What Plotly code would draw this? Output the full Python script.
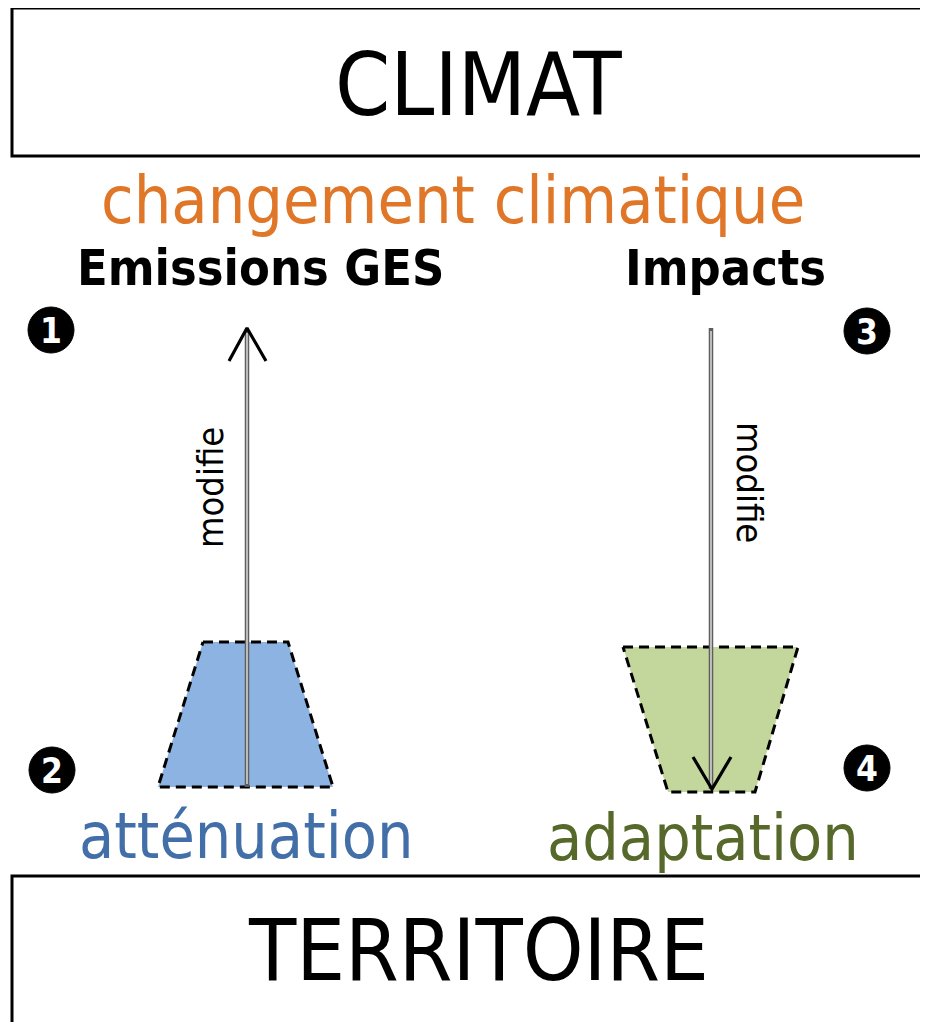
import plotly.graph_objects as go

W, H = 928, 1022
OFF = 8  # default page margin of the html body

# ---- content ----
box_labels = ["CLIMAT", "TERRITOIRE"]
box_top = [8, 876]
box_bottom = [156, 1040]

headline = "changement climatique"
top_labels = ["Emissions GES", "Impacts"]
bottom_labels = ["atténuation", "adaptation"]
arrow_label = "modifie"
numbers = ["1", "3", "2", "4"]
number_x = [51, 867, 52, 867]
number_y = [330, 331, 770, 768]

# trapezoids (vertices)
mit_x = [203, 288, 333, 158, 203]
mit_y = [642, 642, 787, 787, 642]
ada_x = [623, 798, 755, 668, 623]
ada_y = [647, 647, 792, 792, 647]

FONT = "DejaVu Sans Condensed, DejaVu Sans, sans-serif"

fig = go.Figure()

fig.add_trace(go.Scatter(x=mit_x, y=mit_y, mode="lines", fill="toself",
                         fillcolor="#8DB3E2",
                         line=dict(color="black", width=3, dash="10px,6px"),
                         hoverinfo="skip"))
fig.add_trace(go.Scatter(x=ada_x, y=ada_y, mode="lines", fill="toself",
                         fillcolor="#C3D69B",
                         line=dict(color="black", width=3, dash="10px,6px"),
                         hoverinfo="skip"))

shafts = [(247, 330, 787), (711, 328, 789)]
for sx, y0, y1 in shafts:
    fig.add_trace(go.Scatter(x=[sx, sx], y=[y0, y1], mode="lines",
                             line=dict(color="#5e5e5e", width=4.5), hoverinfo="skip"))
    fig.add_trace(go.Scatter(x=[sx, sx], y=[y0 + 3, y1 - 3], mode="lines",
                             line=dict(color="#eeeeee", width=1.3), hoverinfo="skip"))

fig.add_trace(go.Scatter(x=[229, 247, 266], y=[361, 328, 361], mode="lines",
                         line=dict(color="black", width=3.2), hoverinfo="skip"))
fig.add_trace(go.Scatter(x=[693, 712, 731], y=[757, 789, 757], mode="lines",
                         line=dict(color="black", width=3.2), hoverinfo="skip"))

for t, b in zip(box_top, box_bottom):
    fig.add_shape(type="rect", x0=12, x1=940, y0=t, y1=b,
                  line=dict(color="black", width=3), fillcolor="rgba(0,0,0,0)",
                  layer="below")

for n, cx, cy in zip(numbers, number_x, number_y):
    fig.add_shape(type="circle", x0=cx - 23, x1=cx + 23, y0=cy - 23, y1=cy + 23,
                  fillcolor="black", line=dict(color="black", width=1))
    fig.add_annotation(x=cx, y=cy + 1, text="<b>%s</b>" % n, showarrow=False,
                       font=dict(family=FONT, size=35, color="white"))

ann = [
    (box_labels[0], 478, 84, 88, "black", False, 0),
    (box_labels[1], 478, 950, 86, "black", False, 0),
    (headline, 453, 200, 66, "#E07628", False, 0),
    (top_labels[0], 260, 268, 50, "black", True, 0),
    (top_labels[1], 725, 268, 50, "black", True, 0),
    (bottom_labels[0], 246, 836, 64, "#426FA8", False, 0),
    (bottom_labels[1], 703, 838, 64, "#56692A", False, 0),
    (arrow_label, 210, 488, 36, "black", False, -90),
    (arrow_label, 750, 482, 36, "black", False, 90),
]
for text, x, y, size, color, bold, rot in ann:
    fig.add_annotation(x=x, y=y, text=("<b>%s</b>" % text) if bold else text,
                       showarrow=False, textangle=rot,
                       font=dict(family=FONT, size=size, color=color))

fig.update_xaxes(range=[OFF, W], visible=False, fixedrange=True)
fig.update_yaxes(range=[H, OFF], visible=False, fixedrange=True)
fig.update_layout(width=W - OFF, height=H - OFF, margin=dict(l=0, r=0, t=0, b=0),
                  plot_bgcolor="white", paper_bgcolor="white", showlegend=False)

fig.write_html("out.html")
